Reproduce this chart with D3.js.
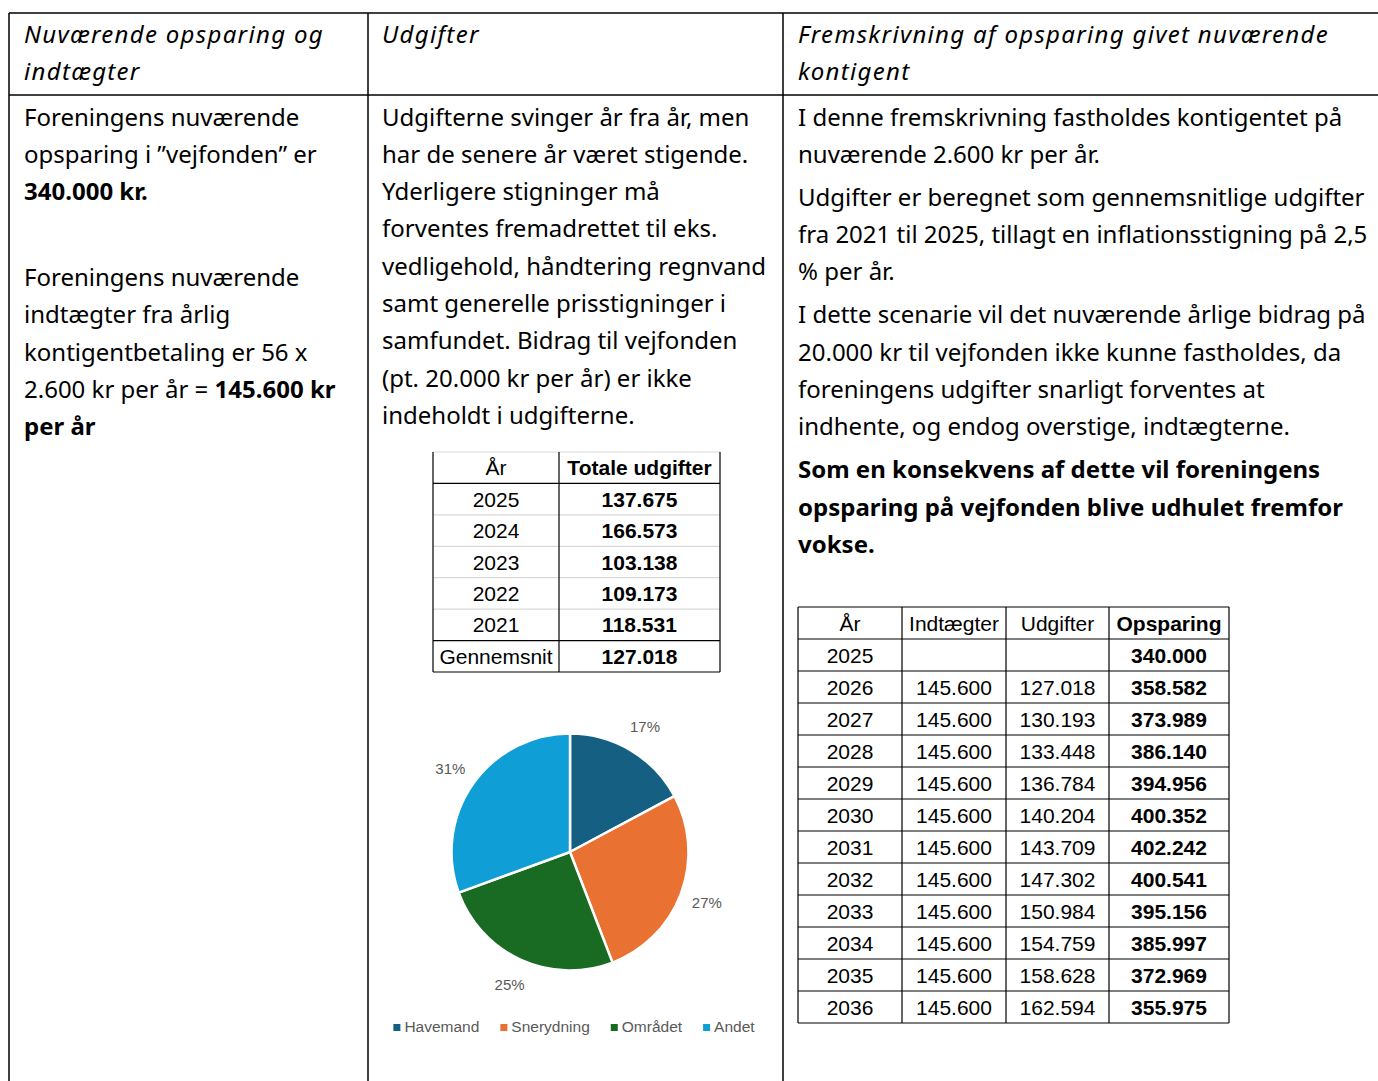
<!DOCTYPE html>
<html>
<head>
<meta charset="utf-8">
<script src="https://cdn.jsdelivr.net/npm/d3@7"></script>
<style>
  html, body { margin: 0; padding: 0; background: #ffffff; }
  svg { display: block; }
</style>
</head>
<body>
<div id="chart"></div>
<script>
// ---------------- DATA ----------------
const headerCol1 = ["Nuværende opsparing og", "indtægter"];
const headerCol2 = ["Udgifter"];
const headerCol3 = ["Fremskrivning af opsparing givet nuværende", "kontigent"];

// paragraphs -> lines -> segments [text, bold]
const textCol1 = [
  [[["Foreningens nuværende"]], [["opsparing i ”vejfonden” er"]], [["340.000 kr.", true]]],
  [],
  [[["Foreningens nuværende"]], [["indtægter fra årlig"]], [["kontigentbetaling er 56 x"]],
   [["2.600 kr per år = "], ["145.600 kr", true]], [["per år", true]]]
];
const textCol2 = [
  [[["Udgifterne svinger år fra år, men"]], [["har de senere år været stigende."]],
   [["Yderligere stigninger må"]], [["forventes fremadrettet til eks."]],
   [["vedligehold, håndtering regnvand"]], [["samt generelle prisstigninger i"]],
   [["samfundet. Bidrag til vejfonden"]], [["(pt. 20.000 kr per år) er ikke"]],
   [["indeholdt i udgifterne."]]]
];
const textCol3 = [
  [[["I denne fremskrivning fastholdes kontigentet på"]], [["nuværende 2.600 kr per år."]]],
  [[["Udgifter er beregnet som gennemsnitlige udgifter"]],
   [["fra 2021 til 2025, tillagt en inflationsstigning på 2,5"]], [["% per år."]]],
  [[["I dette scenarie vil det nuværende årlige bidrag på"]],
   [["20.000 kr til vejfonden ikke kunne fastholdes, da"]],
   [["foreningens udgifter snarligt forventes at"]],
   [["indhente, og endog overstige, indtægterne."]]],
  [[["Som en konsekvens af dette vil foreningens", true]],
   [["opsparing på vejfonden blive udhulet fremfor", true]], [["vokse.", true]]]
];

// Udgifter table
const udgHeader = ["År", "Totale udgifter"];
const udgYears = ["2025", "2024", "2023", "2022", "2021"];
const udgTotals = [137675, 166573, 103138, 109173, 118531];
const udgAvgLabel = "Gennemsnit";
const udgAvg = 127018;

// Pie
const pieCategories = ["Havemand", "Snerydning", "Området", "Andet"];
const pieShares = [17.2, 27.0, 25.3, 30.6];
const pieColors = ["#156082", "#E97132", "#196B24", "#0F9ED5"];

// Projection table
const projHeader = ["År", "Indtægter", "Udgifter", "Opsparing"];
const projYears = ["2025","2026","2027","2028","2029","2030","2031","2032","2033","2034","2035","2036"];
const projIncome = [null,145600,145600,145600,145600,145600,145600,145600,145600,145600,145600,145600];
const projExpenses = [null,127018,130193,133448,136784,140204,143709,147302,150984,154759,158628,162594];
const projSavings = [340000,358582,373989,386140,394956,400352,402242,400541,395156,385997,372969,355975];

// ---------------- LAYOUT ----------------
const W = 1378, H = 1081;
const docFont = "'Noto Sans', 'Open Sans', sans-serif";
const tblFont = "'Liberation Sans', Arial, sans-serif";
const FS = 24, LH = 37.3, PARA = 5.7;

const dk = d3.formatLocale({decimal: ",", thousands: ".", grouping: [3], currency: ["", " kr"]});
const fmt = dk.format(",d");

const svg = d3.select("#chart").append("svg")
  .attr("width", W).attr("height", H)
  .attr("viewBox", `0 0 ${W} ${H}`);

// Document grid
const frame = svg.append("g").attr("stroke", "#000").attr("stroke-width", 1.5);
const colEdges = [9, 368, 783];
const frameTop = 13, headerBottom = 95;
frame.append("line").attr("x1", colEdges[0]).attr("x2", W).attr("y1", frameTop).attr("y2", frameTop);
frame.append("line").attr("x1", colEdges[0]).attr("x2", W).attr("y1", headerBottom).attr("y2", headerBottom);
colEdges.forEach(x => frame.append("line").attr("x1", x).attr("x2", x).attr("y1", frameTop).attr("y2", H));

const textX = [24, 382, 798];

function drawHeader(lines, x) {
  const g = svg.append("g").attr("font-family", docFont).attr("font-size", FS)
    .attr("font-style", "italic").attr("letter-spacing", 1.3).attr("fill", "#000");
  g.selectAll("text").data(lines).join("text")
    .attr("x", x).attr("y", (d, i) => 43 + i * LH).text(d => d);
}
drawHeader(headerCol1, textX[0]);
drawHeader(headerCol2, textX[1]);
drawHeader(headerCol3, textX[2]);

function drawParas(paras, x, y0) {
  const g = svg.append("g").attr("font-family", docFont).attr("font-size", FS).attr("fill", "#000");
  let y = y0;
  paras.forEach(p => {
    if (p.length === 0) { y += LH + PARA; return; }
    p.forEach(line => {
      const t = g.append("text").attr("x", x).attr("y", y).attr("xml:space", "preserve");
      line.forEach(seg => {
        t.append("tspan").attr("font-weight", seg[1] ? 700 : 400).text(seg[0]);
      });
      y += LH;
    });
    y += PARA;
  });
}
drawParas(textCol1, textX[0], 125.5);
drawParas(textCol2, textX[1], 125.5);
drawParas(textCol3, textX[2], 125.5);

// ---------- Udgifter table ----------
(function() {
  const xs = [433, 559, 720];
  const rows = [udgHeader].concat(udgYears.map((y, i) => [y, fmt(udgTotals[i])])).concat([[udgAvgLabel, fmt(udgAvg)]]);
  const yScale = d3.scaleBand().domain(d3.range(rows.length)).range([452, 672]);
  const g = svg.append("g");
  const hLines = d3.range(rows.length + 1);
  g.selectAll("line.h").data(hLines).join("line")
    .attr("x1", xs[0]).attr("x2", xs[2])
    .attr("y1", i => i < rows.length ? yScale(i) : yScale.range()[1])
    .attr("y2", i => i < rows.length ? yScale(i) : yScale.range()[1])
    .attr("stroke", i => (i === 1 || i === rows.length - 1 || i === rows.length) ? "#000" : "#d9d9d9")
    .attr("stroke-width", 1.2);
  g.selectAll("line.v").data(xs).join("line")
    .attr("x1", d => d).attr("x2", d => d)
    .attr("y1", yScale.range()[0]).attr("y2", yScale.range()[1])
    .attr("stroke", "#000").attr("stroke-width", 1.2);
  rows.forEach((r, ri) => {
    r.forEach((cell, ci) => {
      g.append("text")
        .attr("x", (xs[ci] + xs[ci + 1]) / 2)
        .attr("y", yScale(ri) + yScale.bandwidth() / 2)
        .attr("dy", "0.36em")
        .attr("text-anchor", "middle")
        .attr("font-family", tblFont).attr("font-size", 21)
        .attr("font-weight", (ci === 1) ? 700 : 400)
        .attr("fill", "#000")
        .text(cell);
    });
  });
})();

// ---------- Pie ----------
(function() {
  const cx = 570, cy = 852, r = 118.5;
  const pie = d3.pie().sort(null).value(d => d.v);
  const data = pieCategories.map((c, i) => ({c, v: pieShares[i], col: pieColors[i]}));
  const arcs = pie(data);
  const total = d3.sum(pieShares);
  const arc = d3.arc().innerRadius(0).outerRadius(r);
  const labelArc = d3.arc().innerRadius(146).outerRadius(146);
  const g = svg.append("g").attr("transform", `translate(${cx},${cy})`);
  g.selectAll("path").data(arcs).join("path")
    .attr("d", arc).attr("fill", d => d.data.col)
    .attr("stroke", "#fff").attr("stroke-width", 2.5).attr("stroke-linejoin", "round");
  const pct = d3.format(".0%");
  g.selectAll("text").data(arcs).join("text")
    .attr("transform", d => `translate(${labelArc.centroid(d)})`)
    .attr("text-anchor", "middle").attr("dy", "0.35em")
    .attr("font-family", tblFont).attr("font-size", 15).attr("fill", "#595959")
    .text(d => pct(d.data.v / total));

  // legend
  const lg = svg.append("g").attr("font-family", tblFont).attr("font-size", 15.5).attr("fill", "#595959");
  const items = lg.selectAll("g").data(data).join("g");
  items.append("rect").attr("width", 7).attr("height", 7).attr("y", -8).attr("fill", d => d.col);
  items.append("text").attr("x", 11).attr("y", 0).text(d => d.c);
  let xPos = 0;
  const positions = [];
  items.each(function() {
    positions.push(xPos);
    const w = d3.select(this).select("text").node().getComputedTextLength() + 11;
    xPos += w + 21;
  });
  const totalW = xPos - 21;
  const startX = 574 - totalW / 2;
  items.attr("transform", (d, i) => `translate(${startX + positions[i]},${1032})`);
})();

// ---------- Projection table ----------
(function() {
  const xs = [798, 902, 1006, 1109, 1229];
  const rows = [projHeader].concat(projYears.map((y, i) => [
    y,
    projIncome[i] == null ? "" : fmt(projIncome[i]),
    projExpenses[i] == null ? "" : fmt(projExpenses[i]),
    fmt(projSavings[i])
  ]));
  const yScale = d3.scaleBand().domain(d3.range(rows.length)).range([607, 1023]);
  const g = svg.append("g");
  g.selectAll("line.h").data(d3.range(rows.length + 1)).join("line")
    .attr("x1", xs[0]).attr("x2", xs[xs.length - 1])
    .attr("y1", i => i < rows.length ? yScale(i) : yScale.range()[1])
    .attr("y2", i => i < rows.length ? yScale(i) : yScale.range()[1])
    .attr("stroke", "#000").attr("stroke-width", 1.2);
  g.selectAll("line.v").data(xs).join("line")
    .attr("x1", d => d).attr("x2", d => d)
    .attr("y1", yScale.range()[0]).attr("y2", yScale.range()[1])
    .attr("stroke", "#000").attr("stroke-width", 1.2);
  rows.forEach((r, ri) => {
    r.forEach((cell, ci) => {
      g.append("text")
        .attr("x", (xs[ci] + xs[ci + 1]) / 2)
        .attr("y", yScale(ri) + yScale.bandwidth() / 2)
        .attr("dy", "0.36em")
        .attr("text-anchor", "middle")
        .attr("font-family", tblFont).attr("font-size", 21)
        .attr("font-weight", ci === 3 ? 700 : 400)
        .attr("fill", "#000")
        .text(cell);
    });
  });
})();
</script>
</body>
</html>
